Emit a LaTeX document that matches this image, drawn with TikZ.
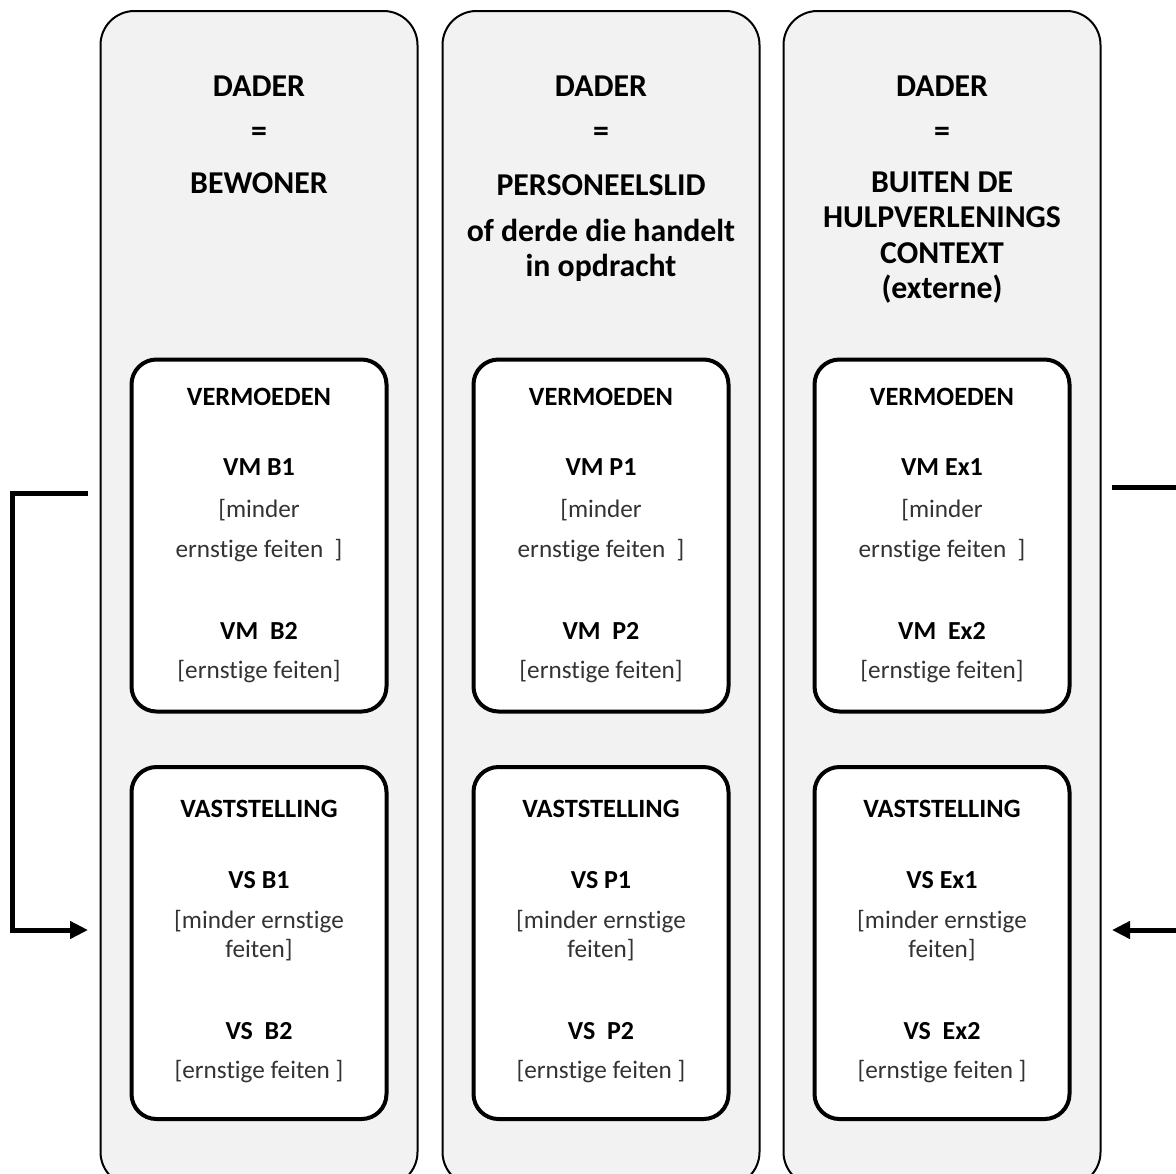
\documentclass[tikz,border=0pt]{standalone}
\usepackage{fontspec}
\setmainfont{Carlito}[Ligatures=NoCommon]
\usetikzlibrary{arrows.meta}
\definecolor{panelgray}{HTML}{F2F2F2}
\begin{document}
\begin{tikzpicture}[x=0.5pt,y=-0.5pt,
        panel/.style = {draw, fill=panelgray, line width=1pt, rounded corners=17pt, inner sep=0pt, minimum width=158.5pt, minimum height=587.5pt},
        box/.style = {draw, fill=white, line width=2pt, rounded corners=12.5pt, inner sep=0pt, minimum width=127.5pt, minimum height=176pt},
        head/.style = {font=\bfseries\fontsize{15.9}{17.8}\selectfont, align=center},
        boxtitle/.style = {font=\bfseries\fontsize{13.2}{15}\selectfont},
        code/.style = {font=\bfseries\fontsize{13}{16}\selectfont},
        txt/.style = {font=\fontsize{12.6}{14.5}\selectfont, text=black!80, align=center},
        link/.style = {line width=2.5pt}
    ]
        \clip (0,0) rectangle (1176,1173);
        % three panels, each with two boxes
        \foreach \x/\c/\k in {259/b/B, 601/p/P, 942/e/Ex} {
            \node[panel] (pan\c) at (\x,598.5) {};
            \node[box] (vm\c) at (\x,535.5) {};
            \node[box] (vs\c) at (\x,943) {};
            \node[boxtitle] (vmt\c) at (\x,397) {VERMOEDEN};
            \node[code] (vma\c) at (\x,467) {VM \k1};
            \node[txt] (vmx\c) at (\x,510) {[minder};
            \node[txt] (vmy\c) at (\x,551) {ernstige feiten\ \ ]};
            \node[code] (vmb\c) at (\x,631) {VM\ \ \k2};
            \node[txt] (vmz\c) at (\x,672) {[ernstige feiten]};
            \node[boxtitle] (vst\c) at (\x,809) {VASTSTELLING};
            \node[code] (vsa\c) at (\x,880) {VS \k1};
            \node[txt] (vsx\c) at (\x,935.5) {[minder ernstige\\feiten]};
            \node[code] (vsb\c) at (\x,1031) {VS\ \ \k2};
            \node[txt] (vsz\c) at (\x,1072) {[ernstige feiten ]};
            \node[head] (dad\c) at (\x,86) {DADER};
            \node[head] (eq\c) at (\x,134) {=};
        }
        \node[head] (bew) at (259,183) {BEWONER};
        \node[head] (pers) at (601,185) {PERSONEELSLID};
        \node[head] (derde) at (601,250.5) {of derde die handelt\\in opdracht};
        \node[head] (ext) at (942,237.5) {BUITEN DE\\HULPVERLENINGS\\CONTEXT\\(externe)};
        % arrows outside the panels
        \coordinate (lfrom) at (88,493);
        \coordinate (lto) at (88,930);
        \coordinate (rfrom) at (1112,487);
        \coordinate (rto) at (1112,930);
        \draw[link, -{Triangle[length=9pt,width=8.5pt]}] (lfrom) -- ++(-76,0) |- (lto);
        \draw[link] (rfrom) -- ++(80,0);
        \draw[link, {Triangle[length=9pt,width=8.5pt]}-] (rto) -- ++(80,0);
    \end{tikzpicture}
\end{document}
